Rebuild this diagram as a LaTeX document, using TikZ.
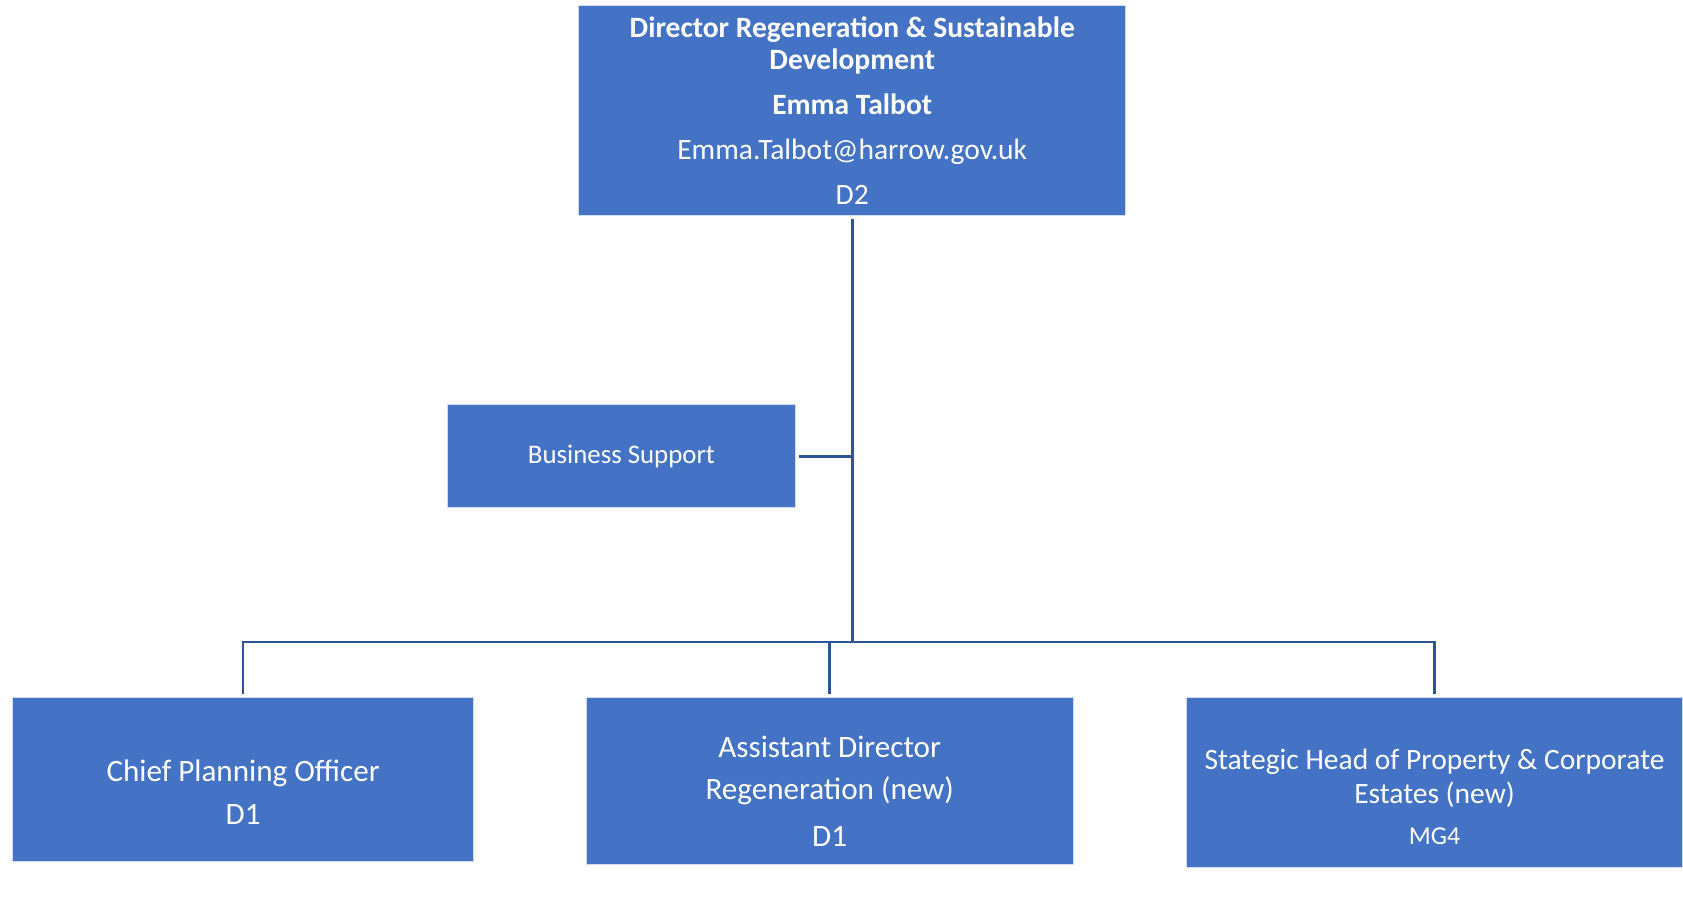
\documentclass[tikz,border=0pt]{standalone}
\usepackage{fontspec}
\setmainfont{Carlito}
\usepackage{tikz}
\usetikzlibrary{shapes, positioning}
\definecolor{boxblue}{HTML}{4472C4}
\definecolor{lineblue}{HTML}{2F5597}
\tikzstyle{rolebox} = [rectangle, fill=boxblue, draw=white!75!boxblue, line width=1pt, text=white, align=center, inner sep=0pt, font=\fontsize{29}{32}\selectfont]
\tikzstyle{line} = [draw, lineblue, line width=2.5pt, shorten <=3pt]

\begin{document}
\begin{tikzpicture}[x=1pt, y=-1pt]
			\useasboundingbox (0,0) rectangle (1568,836.6);
			\node [rolebox, minimum width=510, minimum height=196, font=\fontsize{27.5}{30}\selectfont] (top) at (794, 103) {{\bfseries Director Regeneration \& Sustainable}\\{\bfseries Development}\\[12pt]{\bfseries Emma Talbot}\\[12pt]Emma.Talbot@harrow.gov.uk\\[12pt]D2};
			\node [rolebox, minimum width=324, minimum height=96, font=\fontsize{25}{30}\selectfont] (biz) at (579, 425) {Business Support};
			\node [rolebox, minimum width=429, minimum height=153] (chief) at (226.5, 726.5) {\rule{0pt}{44pt}Chief Planning Officer\\[8pt]D1};
			\node [rolebox, minimum width=454, minimum height=155] (asst) at (773, 727.5) {\rule{0pt}{40pt}Assistant Director\\[7pt]Regeneration (new)\\[12pt]D1};
			\node [rolebox, minimum width=463, minimum height=158, font=\fontsize{27.5}{32}\selectfont] (strat) at (1336.5, 729) {\rule{0pt}{46pt}Stategic Head of Property \& Corporate\\Estates (new)\\[6pt]{\fontsize{24}{28}\selectfont MG4}};
			\coordinate (bus) at (0, 598);
		
			\path [line] (top.south) -- (top.south |- bus);
			\path [line] (biz.east) -- (biz.east -| top.south);
			\path [line, shorten >=3pt] (chief.north) -- (chief.north |- bus) -- (strat.north |- bus) -- (strat.north);
			\path [line] (asst.north) -- (asst.north |- bus);
		\end{tikzpicture}
\end{document}
